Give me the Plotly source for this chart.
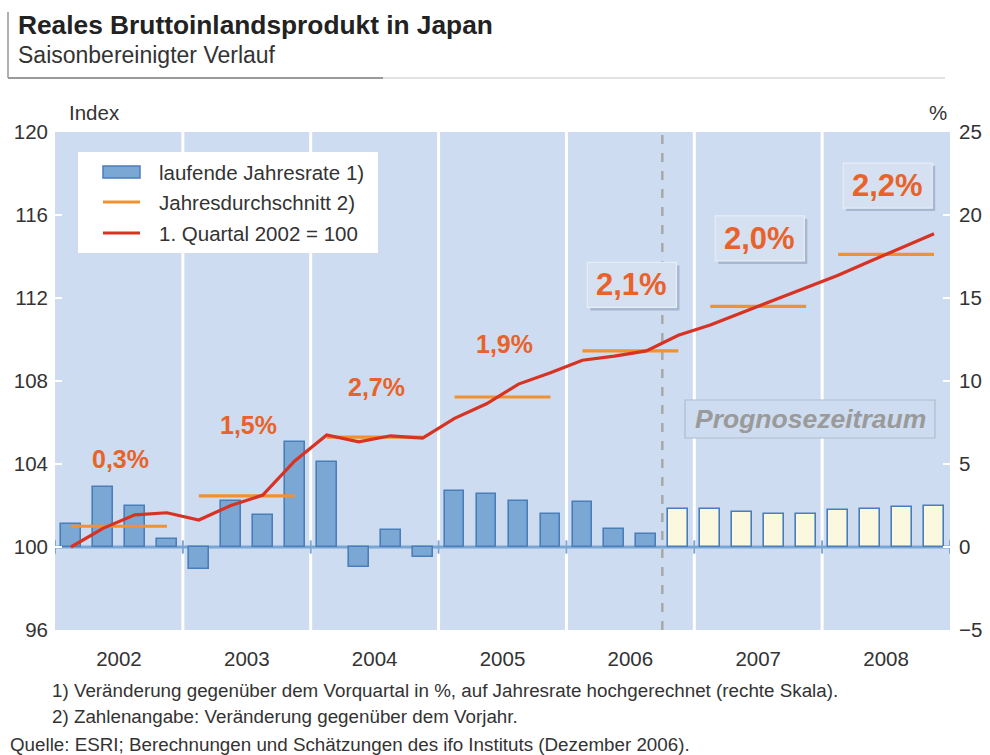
import plotly.graph_objects as go

# ---------------- data ----------------
years = ["2002", "2003", "2004", "2005", "2006", "2007", "2008"]
quarters_per_year = 4
# quarterly change, annualised, % (right scale)
growth_rate = [1.4, 3.6, 2.5, 0.5,
               -1.3, 2.8, 1.9, 6.3,
               5.1, -1.2, 1.0, -0.6,
               3.4, 3.2, 2.8, 2.0,
               2.7, 1.1, 0.8, 2.3,
               2.3, 2.1, 2.0, 2.0,
               2.2, 2.3, 2.4, 2.5]
n_actual = 19  # quarters before forecast period (2006 Q4 onwards is forecast)
# index, 1st quarter 2002 = 100 (left scale)
index_values = [100.0, 100.9, 101.55, 101.65,
                101.3, 102.0, 102.5, 104.15,
                105.4, 105.07, 105.36, 105.25,
                106.2, 106.9, 107.85, 108.4,
                109.0, 109.2, 109.45, 110.2,
                110.7, 111.3, 111.9, 112.5,
                113.1, 113.77, 114.45, 115.1]
# annual average index
annual_avg = [101.0, 102.46, 105.3, 107.23, 109.45, 111.6, 114.1]
annual_change_labels = ["0,3%", "1,5%", "2,7%", "1,9%", "2,1%", "2,0%", "2,2%"]
forecast_years = ["2006", "2007", "2008"]

left_ticks = [96, 100, 104, 108, 112, 116, 120]
right_ticks = [-5, 0, 5, 10, 15, 20, 25]

# ---------------- style / layout positions ----------------
W, H = 990, 755
PL, PR, PT, PB = 55, 950, 132, 630
label_y = [104.25, 105.9, 107.7, 109.8, 112.63, 114.87, 117.42]  # label placement (index units)

BG = "#cddcf0"
BAR_FILL = "#7ba7d5"
BAR_LINE = "#4a7eba"
FC_FILL = "#faf8de"
ORANGE = "#f09132"
RED = "#d83222"
LABEL = "#e8622a"
TXT = "#333333"
FONT = "Liberation Sans, Arial, sans-serif"

nq = len(growth_rate)
QPX = (PR - PL) / nq                                   # px per quarter
IPX = (PB - PT) / (left_ticks[-1] - left_ticks[0])      # px per index unit


def px(x):
    return (x - PL) / (PR - PL)


def py(y):
    return (PB - y) / (PB - PT)


xq = [i + 0.5 for i in range(nq)]
bar_fill = [BAR_FILL if i < n_actual else FC_FILL for i in range(nq)]

fig = go.Figure()

fig.add_trace(go.Bar(
    x=xq, y=growth_rate, yaxis="y", width=0.62,
    marker=dict(color=bar_fill, line=dict(color=BAR_LINE, width=1.6)),
    name="laufende Jahresrate 1)", showlegend=False, hoverinfo="y"))

avg_x, avg_y = [], []
for k, v in enumerate(annual_avg):
    avg_x += [k * quarters_per_year + 0.5, k * quarters_per_year + 3.5, None]
    avg_y += [v, v, None]
fig.add_trace(go.Scatter(
    x=avg_x, y=avg_y, yaxis="y2", mode="lines",
    line=dict(color=ORANGE, width=3.2),
    name="Jahresdurchschnitt 2)", showlegend=False))

fig.add_trace(go.Scatter(
    x=xq, y=index_values, yaxis="y2", mode="lines",
    line=dict(color=RED, width=3.2),
    name="1. Quartal 2002 = 100", showlegend=False))

shapes = []
ny = len(years)
# year separators
for k in range(1, ny):
    shapes.append(dict(type="line", xref="x", yref="paper",
                       x0=k * quarters_per_year, x1=k * quarters_per_year,
                       y0=0, y1=1, line=dict(color="white", width=3), layer="below"))
# forecast separator
shapes.append(dict(type="line", xref="x", yref="paper", x0=n_actual, x1=n_actual,
                   y0=0, y1=1, line=dict(color="#a8a8a8", width=2.5, dash="dash"),
                   layer="below"))
# zero baseline with year ticks
shapes.append(dict(type="line", xref="paper", yref="y", x0=0, x1=1, y0=0, y1=0,
                   line=dict(color="#7aa6d4", width=3), layer="below"))
for k in range(0, ny + 1):
    shapes.append(dict(type="line", xref="x", yref="y",
                       x0=k * quarters_per_year, x1=k * quarters_per_year,
                       y0=-0.4, y1=0.4, line=dict(color="#7aa6d4", width=2),
                       layer="below"))

# custom legend
shapes.append(dict(type="rect", xref="paper", yref="paper",
                   x0=px(78), x1=px(378), y0=py(253), y1=py(152),
                   fillcolor="white", line=dict(width=0), layer="above"))
shapes.append(dict(type="rect", xref="paper", yref="paper",
                   x0=px(103), x1=px(140), y0=py(178), y1=py(166),
                   fillcolor=BAR_FILL, line=dict(color=BAR_LINE, width=1.5),
                   layer="above"))
shapes.append(dict(type="line", xref="paper", yref="paper",
                   x0=px(103), x1=px(140), y0=py(202), y1=py(202),
                   line=dict(color=ORANGE, width=3), layer="above"))
shapes.append(dict(type="line", xref="paper", yref="paper",
                   x0=px(103), x1=px(140), y0=py(233), y1=py(233),
                   line=dict(color=RED, width=3), layer="above"))

# header frame lines
shapes.append(dict(type="line", xref="paper", yref="paper",
                   x0=px(8), x1=px(8), y0=py(78), y1=py(12),
                   line=dict(color="#b0b0b0", width=2)))
shapes.append(dict(type="line", xref="paper", yref="paper",
                   x0=px(8), x1=px(383), y0=py(78), y1=py(78),
                   line=dict(color="#9a9a9a", width=2)))
shapes.append(dict(type="line", xref="paper", yref="paper",
                   x0=px(383), x1=px(945), y0=py(78), y1=py(78),
                   line=dict(color="#c4c4c4", width=1)))


def add_box(xc, yc, half_w_px, half_h_px, fill, border, shadow=True):
    hw = half_w_px / QPX
    hh = half_h_px / IPX
    if shadow:
        sx, sy = 3 / QPX, 3 / IPX
        shapes.append(dict(type="rect", xref="x", yref="y2",
                           x0=xc - hw + sx, x1=xc + hw + sx,
                           y0=yc - hh - sy, y1=yc + hh - sy,
                           fillcolor="rgba(140,158,185,0.6)", line=dict(width=0),
                           layer="above"))
    shapes.append(dict(type="rect", xref="x", yref="y2",
                       x0=xc - hw, x1=xc + hw, y0=yc - hh, y1=yc + hh,
                       fillcolor=fill, line=dict(color=border, width=1.2),
                       layer="above"))


annotations = []
legend_texts = ["laufende Jahresrate 1)", "Jahresdurchschnitt 2)", "1. Quartal 2002 = 100"]
for t, yy in zip(legend_texts, [172, 202, 233]):
    annotations.append(dict(text=t, xref="paper", yref="paper", x=px(157), y=py(yy),
                            xanchor="left", yanchor="middle", showarrow=False,
                            font=dict(family=FONT, size=20.5, color=TXT)))

for k, (lab, ly) in enumerate(zip(annual_change_labels, label_y)):
    xc = k * quarters_per_year + 2 + 0.05
    if years[k] in forecast_years:
        add_box(xc, ly, 44.5, 22.5, "#d5e0f0", "#e6edf6")
        annotations.append(dict(text="<b>%s</b>" % lab, x=xc, y=ly, xref="x", yref="y2",
                                showarrow=False, yanchor="middle",
                                font=dict(family=FONT, size=31, color=LABEL)))
    else:
        annotations.append(dict(text="<b>%s</b>" % lab, x=xc, y=ly, xref="x", yref="y2",
                                showarrow=False, yanchor="middle",
                                font=dict(family=FONT, size=25, color=LABEL)))

# forecast period label
prog_x = (810 - PL) / QPX
prog_y = left_ticks[0] + (PB - 419) / IPX
add_box(prog_x, prog_y, 125, 19, BG, "#b0bccb", shadow=False)
annotations.append(dict(text="<b><i>Prognosezeitraum</i></b>", x=prog_x, y=prog_y,
                        xref="x", yref="y2", showarrow=False, yanchor="middle",
                        font=dict(family=FONT, size=26.5, color="#9a9a9a")))

# axis unit labels
annotations.append(dict(text="Index", xref="paper", yref="paper", x=px(94), y=py(113),
                        xanchor="center", yanchor="middle", showarrow=False,
                        font=dict(family=FONT, size=20.5, color=TXT)))
annotations.append(dict(text="%", xref="paper", yref="paper", x=px(938), y=py(113),
                        xanchor="center", yanchor="middle", showarrow=False,
                        font=dict(family=FONT, size=20.5, color=TXT)))

# titles
annotations.append(dict(text="<b>Reales Bruttoinlandsprodukt in Japan</b>",
                        xref="paper", yref="paper", x=px(16), y=py(25),
                        xanchor="left", yanchor="middle", showarrow=False,
                        font=dict(family=FONT, size=26.3, color="#222222")))
annotations.append(dict(text="Saisonbereinigter Verlauf",
                        xref="paper", yref="paper", x=px(16), y=py(55),
                        xanchor="left", yanchor="middle", showarrow=False,
                        font=dict(family=FONT, size=23, color="#333333")))

# footnotes
foot = [("1) Veränderung gegenüber dem Vorquartal in %, auf Jahresrate hochgerechnet (rechte Skala).", 50, 690),
        ("2) Zahlenangabe: Veränderung gegenüber dem Vorjahr.", 50, 716),
        ("Quelle: ESRI; Berechnungen und Schätzungen des ifo Instituts (Dezember 2006).", 8, 744)]
for t, xx, yy in foot:
    annotations.append(dict(text=t, xref="paper", yref="paper", x=px(xx), y=py(yy),
                            xanchor="left", yanchor="middle", showarrow=False,
                            font=dict(family=FONT, size=18.8, color=TXT)))

fig.update_layout(
    width=W, height=H,
    margin=dict(l=PL, r=W - PR, t=PT, b=H - PB, pad=0, autoexpand=False),
    paper_bgcolor="white", plot_bgcolor=BG,
    font=dict(family=FONT, size=20, color=TXT),
    bargap=0,
    xaxis=dict(range=[0, nq], tickmode="array",
               tickvals=[k * quarters_per_year + 2 for k in range(ny)],
               ticktext=years, ticks="", showgrid=False, zeroline=False,
               showline=False, ticklabelstandoff=14,
               tickfont=dict(family=FONT, size=20.5, color=TXT)),
    yaxis=dict(range=[right_ticks[0], right_ticks[-1]], side="right",
               tickmode="array", tickvals=right_ticks,
               ticks="inside", ticklen=7, tickwidth=2, tickcolor="white",
               showgrid=False, zeroline=False, showline=False,
               ticklabelstandoff=8,
               tickfont=dict(family=FONT, size=20.5, color=TXT)),
    yaxis2=dict(range=[left_ticks[0], left_ticks[-1]], side="left", overlaying="y",
                tickmode="array", tickvals=left_ticks,
                ticks="inside", ticklen=7, tickwidth=2, tickcolor="white",
                showgrid=False, zeroline=False, showline=False,
                ticklabelstandoff=6,
                tickfont=dict(family=FONT, size=20.5, color=TXT)),
    shapes=shapes, annotations=annotations, showlegend=False,
)

fig.write_html("out.html", config={"displayModeBar": False},
               post_script="document.body.style.margin='0';document.body.style.overflow='hidden';")
